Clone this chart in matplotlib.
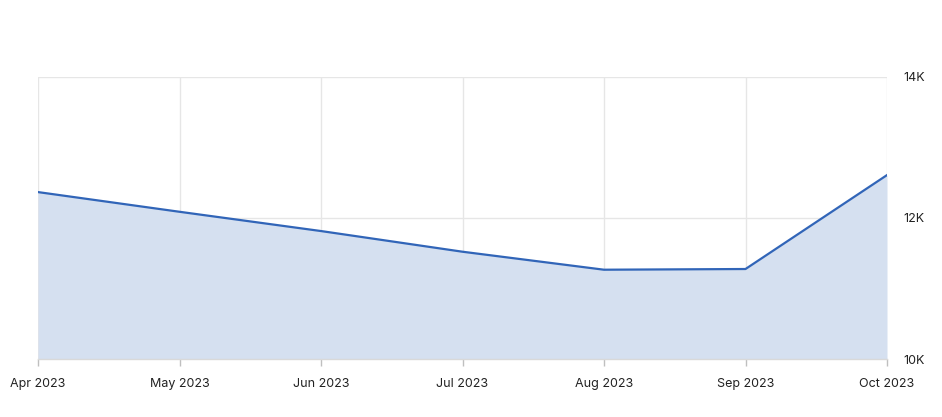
import matplotlib
matplotlib.use("Agg")
import matplotlib.pyplot as plt

months = ["Apr 2023", "May 2023", "Jun 2023", "Jul 2023", "Aug 2023", "Sep 2023", "Oct 2023"]
values = [12365, 12086, 11813, 11520, 11265, 11275, 12606]
y_ticks = [10000, 12000, 14000]
y_labels = ["10K", "12K", "14K"]

plt.rcParams['font.family'] = ['Inter', 'DejaVu Sans']

fig = plt.figure(figsize=(9.42, 4.17), dpi=100)
ax = fig.add_axes([38/942, 1 - 359/417, (887 - 38)/942, (359 - 76.7)/417])

x = list(range(len(months)))
line_color = "#3165b8"
ax.fill_between(x, values, 10000, color="#d5e0f0", linewidth=0, zorder=2)
ax.plot(x, values, color=line_color, linewidth=1.6, zorder=3)

ax.set_xlim(0, len(months) - 1)
ax.set_ylim(10000, 14000)
ax.set_xticks(x)
ax.set_xticklabels(months)
ax.set_yticks(y_ticks)
ax.set_yticklabels(y_labels)
ax.yaxis.tick_right()

ax.grid(True, color="#e6e6e6", linewidth=1, zorder=1)
ax.set_axisbelow(True)
for s in ["top", "left", "right"]:
    ax.spines[s].set_visible(False)
ax.spines["bottom"].set_color("#d9d9d9")
ax.spines["bottom"].set_linewidth(1)

ax.tick_params(axis="x", length=5, width=1, color="#bfbfbf", pad=9, labelsize=9, labelcolor="#222222")
ax.tick_params(axis="y", length=0, pad=12, labelsize=9, labelcolor="#222222")

fig.savefig("out.png", dpi=100)
